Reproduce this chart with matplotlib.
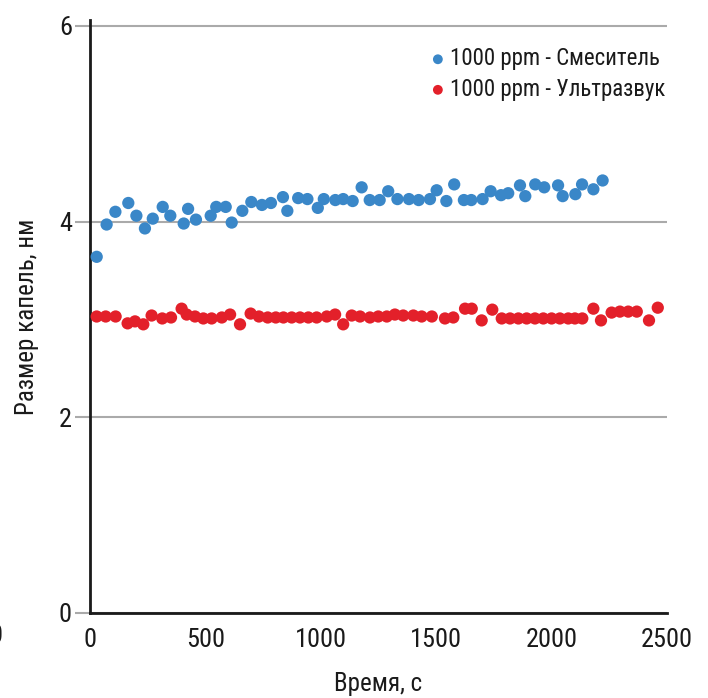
import matplotlib
matplotlib.use("Agg")
import matplotlib.pyplot as plt
from matplotlib import font_manager

names = {f.name for f in font_manager.fontManager.ttflist}
FONT = 'Roboto'
for cand in ['Roboto Condensed', 'Archivo Narrow', 'Liberation Sans Narrow']:
    if cand in names:
        FONT = cand
        break
plt.rcParams['font.family'] = [FONT, 'DejaVu Sans']

mixer_label = "1000 ppm - Смеситель"
ultra_label = "1000 ppm - Ультразвук"

mixer_t = [29, 72, 110, 166, 201, 238, 272, 315, 348, 406, 425, 459, 523, 547, 588,
           614, 660, 699, 745, 784, 836, 855, 902, 942, 987, 1013, 1063, 1097, 1138,
           1177, 1212, 1255, 1292, 1332, 1382, 1424, 1473, 1502, 1544, 1578, 1620,
           1652, 1701, 1736, 1781, 1812, 1863, 1886, 1929, 1968, 2028, 2048, 2103,
           2132, 2181, 2221]
mixer_d = [3.64, 3.97, 4.10, 4.19, 4.06, 3.93, 4.03, 4.15, 4.06, 3.98, 4.13, 4.02, 4.06,
           4.15, 4.15, 3.99, 4.11, 4.20, 4.17, 4.19, 4.25, 4.11, 4.24, 4.23, 4.14, 4.23,
           4.22, 4.23, 4.21, 4.35, 4.22, 4.22, 4.31, 4.23, 4.23, 4.22, 4.23, 4.32, 4.21,
           4.38, 4.22, 4.22, 4.23, 4.31, 4.27, 4.29, 4.37, 4.26, 4.38, 4.35, 4.37, 4.26,
           4.28, 4.38, 4.33, 4.42]

ultra_t = [29, 68, 111, 163, 195, 231, 267, 313, 351, 397, 419, 455, 491, 527, 571, 607,
           650, 696, 732, 770, 805, 838, 874, 910, 946, 982, 1026, 1062, 1097, 1134, 1170,
           1213, 1249, 1286, 1321, 1357, 1401, 1437, 1481, 1538, 1574, 1625, 1654, 1697,
           1743, 1784, 1820, 1856, 1892, 1928, 1964, 2000, 2036, 2072, 2101, 2133, 2181,
           2214, 2260, 2296, 2332, 2369, 2422, 2460]
ultra_d = [3.03, 3.03, 3.03, 2.96, 2.98, 2.95, 3.04, 3.01, 3.02, 3.11, 3.05, 3.03, 3.01,
           3.01, 3.02, 3.05, 2.95, 3.06, 3.03, 3.02, 3.02, 3.02, 3.02, 3.02, 3.02, 3.02,
           3.03, 3.05, 2.95, 3.04, 3.03, 3.02, 3.03, 3.03, 3.05, 3.04, 3.04, 3.03, 3.03,
           3.01, 3.02, 3.11, 3.11, 2.99, 3.10, 3.01, 3.01, 3.01, 3.01, 3.01, 3.01, 3.01,
           3.01, 3.01, 3.01, 3.01, 3.11, 2.99, 3.07, 3.08, 3.08, 3.08, 2.99, 3.12]

x_ticks = [0, 500, 1000, 1500, 2000, 2500]
y_ticks = [0, 2, 4, 6]
x_title = "Время, с"
y_title = "Размер капель, нм"

W, H = 708, 698
fig = plt.figure(figsize=(W / 100, H / 100), dpi=100)
ax = fig.add_axes([90 / W, 1 - 613 / H, (667 - 90) / W, (613 - 20) / H])

blue = '#3a87c8'
red = '#e3202a'
ax.scatter(mixer_t, mixer_d, s=78, color=blue, edgecolors='none', zorder=3, label=mixer_label)
ax.scatter(ultra_t, ultra_d, s=78, color=red, edgecolors='none', zorder=3, label=ultra_label)

ax.set_xlim(0, 2500)
ax.set_ylim(0, 6.06)
ax.set_xticks(x_ticks)
ax.set_yticks(y_ticks)
ax.yaxis.grid(True, color='#aaaaaa', linewidth=1.5)
ax.set_axisbelow(True)

for s in ['top', 'right']:
    ax.spines[s].set_visible(False)
for s in ['left', 'bottom']:
    ax.spines[s].set_color('#1a1a1a')
    ax.spines[s].set_linewidth(2)

ax.tick_params(axis='y', length=11, width=1.5, color='#aaaaaa', labelsize=19,
               labelcolor='#1a1a1a', pad=2)
ax.tick_params(axis='x', length=0, labelsize=19, labelcolor='#1a1a1a', pad=11)

ax.set_xlabel(x_title, fontsize=18, color='#1a1a1a', labelpad=14)
ax.set_ylabel(y_title, fontsize=18, color='#1a1a1a', labelpad=14)

leg = ax.legend(loc='upper right', bbox_to_anchor=(0.998, 0.954), frameon=False,
                fontsize=16.5, markerscale=0.8, handletextpad=0.05, labelspacing=0.33,
                borderaxespad=0, borderpad=0, handlelength=1.0)
for t in leg.get_texts():
    t.set_color('#1a1a1a')

fig.text(-4 / W, 1 - 636 / H, '0', fontsize=19, ha='center', va='center', color='#1a1a1a')

fig.savefig('out.png', dpi=100)
